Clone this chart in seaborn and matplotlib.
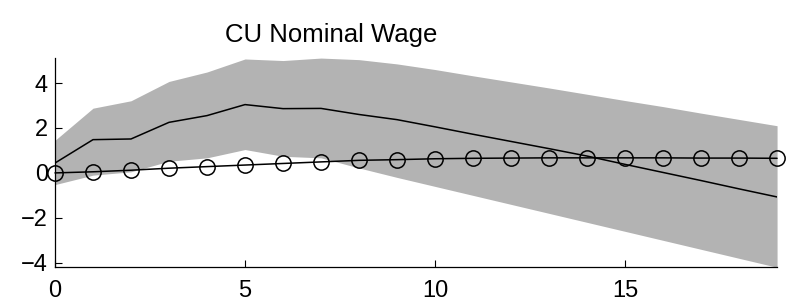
import matplotlib
matplotlib.use('Agg')
import numpy as np
import pandas as pd
import matplotlib.pyplot as plt
import seaborn as sns

horizon = list(range(20))
irf_mean = [0.44, 1.48, 1.51, 2.25, 2.55, 3.04, 2.86, 2.87, 2.60, 2.37,
            2.05, 1.72, 1.40, 1.08, 0.75, 0.38, 0.02, -0.34, -0.71, -1.07]
band_upper = [1.45, 2.88, 3.21, 4.07, 4.49, 5.07, 5.00, 5.11, 5.04, 4.85,
              4.60, 4.32, 4.05, 3.78, 3.50, 3.22, 2.95, 2.66, 2.38, 2.10]
band_lower = [-0.52, -0.10, 0.05, 0.52, 0.67, 1.04, 0.74, 0.67, 0.22, -0.20,
              -0.60, -1.00, -1.40, -1.80, -2.20, -2.60, -3.00, -3.40, -3.80, -4.20]
irf_circ = [0.00, 0.05, 0.12, 0.21, 0.28, 0.35, 0.42, 0.49, 0.56, 0.59,
            0.63, 0.65, 0.66, 0.67, 0.67, 0.67, 0.67, 0.66, 0.66, 0.65]

df = pd.DataFrame({'h': horizon, 'mean': irf_mean, 'up': band_upper,
                   'lo': band_lower, 'circ': irf_circ})

sns.set_style('white')
plt.rcParams['font.family'] = ['Liberation Sans', 'DejaVu Sans']
plt.rcParams['text.color'] = 'black'
plt.rcParams['xtick.color'] = 'black'
plt.rcParams['ytick.color'] = 'black'

fig = plt.figure(figsize=(7.97, 3.05), dpi=100)
ax = fig.add_axes([0.069, 0.1236, 0.906, 0.686])

ax.fill_between(df['h'], df['lo'], df['up'], color='#b3b3b3', linewidth=0)
sns.lineplot(data=df, x='h', y='mean', color='black', linewidth=1.1, ax=ax)
sns.lineplot(data=df, x='h', y='circ', color='black', linewidth=1.1, marker='o',
             markersize=11, markerfacecolor='none', markeredgecolor='black',
             markeredgewidth=1.1, clip_on=False, ax=ax)

ax.set_xlim(0, 19)
ax.set_ylim(min(band_lower), max(band_upper))
ax.set_xticks([0, 5, 10, 15])
ax.set_yticks([-4, -2, 0, 2, 4])
ax.set_xlabel('')
ax.set_ylabel('')
ax.tick_params(direction='in', length=5, width=0.8, color='black', labelsize=17,
               bottom=True, left=True)
ax.tick_params(axis='x', pad=9.5)
ax.tick_params(axis='y', pad=5)
for s in ['top', 'right']:
    ax.spines[s].set_visible(False)
for s in ['left', 'bottom']:
    ax.spines[s].set_color('black')
    ax.spines[s].set_linewidth(0.9)

ax.set_title('CU Nominal Wage', fontsize=18.5, x=0.382, y=1.0, pad=11.5)

fig.savefig('out.png', dpi=100)
